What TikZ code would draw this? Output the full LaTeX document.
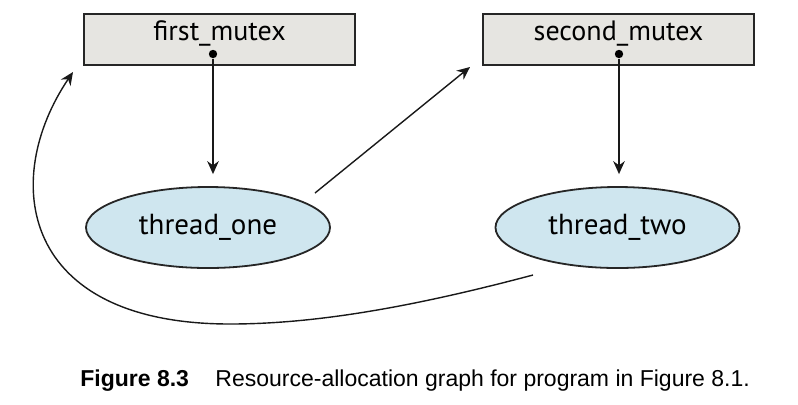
\documentclass[tikz,border=0pt]{standalone}
\usepackage{fontspec}
\setmainfont{Liberation Sans}
\newfontfamily\labelfont{PT Sans}
\usetikzlibrary{arrows.meta,shapes.geometric,positioning}
\definecolor{mutex area}{HTML}{E6E5E1}
\definecolor{thread area}{HTML}{CFE6EF}
\tikzset{
  mutex/.style={rectangle, fill=mutex area, draw=black!85, line width=0.9pt,
    minimum width=135.5pt, minimum height=25.5pt, inner sep=0pt},
  thread/.style={ellipse, fill=thread area, draw=black!85, line width=0.9pt,
    minimum width=122pt, minimum height=40.5pt, inner sep=0pt,
    font=\labelfont\fontsize{14.5}{16}\selectfont},
  holder/.style={circle, fill=black, minimum size=4.2pt, inner sep=0pt},
  edge/.style={draw=black!90, line width=0.7pt, -{Stealth[length=6.5pt,width=5.8pt]}}
  }
\begin{document}
\begin{tikzpicture}[x=0.5pt,y=-0.5pt]
  \useasboundingbox (0,0) rectangle (798,404);
  % resources
  \foreach \pos/\name/\text in {{(219.5,39.5)/first/first\_mutex}, {(618.5,39.5)/second/second\_mutex}} {
    \node[mutex] (\name) at \pos {};
    \node[font=\labelfont\fontsize{14}{16}\selectfont] (\name text) at ([yshift=3.2pt]\name.center) {\text};
  }
  \node[holder] (first dot) at (213,54) {};
  \node[holder] (second dot) at (619,54) {};
  % threads
  \node[thread] (one) at (208,227.5) {thread\_one};
  \node[thread] (two) at (617.5,227.5) {thread\_two};
  % edges
  \coordinate (one out) at (315,193);
  \coordinate (two out) at (533,275);
  \coordinate (first in) at (73,72);
  \coordinate (second in) at (470,67);
  \draw[edge, shorten >=6pt] (first dot) -- (one.north -| first dot);
  \draw[edge, shorten >=6pt] (second dot) -- (two.north -| second dot);
  \draw[edge] (one out) -- (second in);
  \draw[edge] (two out) .. controls (420,305) and (320,324) .. (230,324)
    .. controls (20,324) and (0,180) .. (first in);
  % caption
  \node[anchor=west, font=\fontsize{11.5}{14}\selectfont, inner sep=0pt] (caption) at (80,381)
    {\textbf{Figure 8.3}\hspace{1.15em}Resource-allocation graph for program in Figure 8.1.};
\end{tikzpicture}
\end{document}
